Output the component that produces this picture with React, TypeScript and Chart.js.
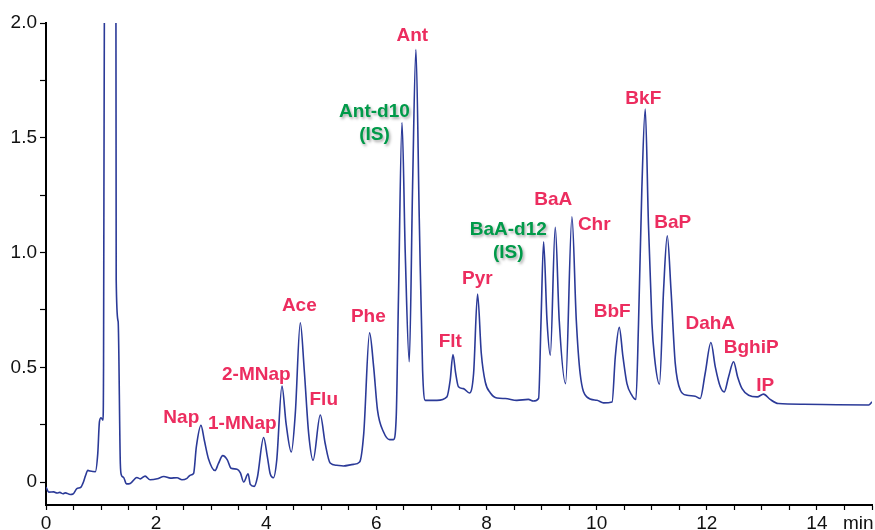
import React, { useEffect, useRef } from 'react';
import { Chart, registerables } from 'chart.js';

Chart.register(...registerables);

// Retention time (min) and detector signal
const timeMin = [
  0.0, 0.05, 0.14, 0.2, 0.25, 0.31, 0.35, 0.44, 0.49, 0.56, 0.635, 0.68, 0.72, 0.76, 0.8, 0.895,
  0.94, 0.97, 1.0, 1.035, 1.045, 1.06, 1.16, 1.27, 1.275, 1.31, 1.35, 1.37, 1.41, 1.46, 1.53,
  1.65, 1.71, 1.8, 1.89, 2.02, 2.14, 2.26, 2.38, 2.47, 2.56, 2.62, 2.68, 2.73, 2.814, 2.875,
  2.95, 3.07, 3.13, 3.21, 3.29, 3.36, 3.47, 3.53, 3.59, 3.67, 3.71, 3.78, 3.84, 3.952, 4.02,
  4.07, 4.13, 4.19, 4.285, 4.36, 4.455, 4.527, 4.618, 4.69, 4.77, 4.85, 4.981, 5.07, 5.16,
  5.28, 5.4, 5.585, 5.695, 5.77, 5.876, 5.95, 6.02, 6.13, 6.24, 6.31, 6.36, 6.4, 6.465, 6.524,
  6.597, 6.657, 6.718, 6.779, 6.839, 6.888, 7.1, 7.28, 7.34, 7.39, 7.44, 7.49, 7.58, 7.69,
  7.765, 7.837, 7.905, 7.977, 8.07, 8.19, 8.34, 8.55, 8.76, 8.85, 8.945, 8.99, 9.036, 9.098,
  9.158, 9.248, 9.32, 9.435, 9.551, 9.63, 9.7, 9.82, 10.005, 10.125, 10.28, 10.338, 10.41,
  10.478, 10.55, 10.64, 10.713, 10.76, 10.82, 10.882, 10.94, 11.004, 11.05, 11.14, 11.215,
  11.282, 11.35, 11.427, 11.52, 11.64, 11.79, 11.88, 11.97, 12.075, 12.154, 12.245, 12.317,
  12.395, 12.486, 12.56, 12.64, 12.76, 12.915, 13.03, 13.15, 13.3, 13.76, 14.36, 14.94, 15.0,
];
const signal = [
  -0.022, -0.044, -0.043, -0.048, -0.045, -0.051, -0.047, -0.054, -0.052, -0.029, -0.022, 0.0,
  0.03, 0.051, 0.048, 0.045, 0.124, 0.262, 0.28, 0.27, 0.5, 2.05, 3.0, 2.05, 0.88, 0.7, 0.08,
  0.03, 0.02, -0.008, -0.006, 0.02, 0.014, 0.026, 0.01, 0.014, 0.024, 0.017, 0.019, 0.01, 0.016,
  0.03, 0.037, 0.153, 0.247, 0.182, 0.102, 0.05, 0.08, 0.115, 0.098, 0.06, 0.056, 0.04, 0.0,
  0.036, -0.01, -0.019, 0.022, 0.194, 0.11, 0.037, 0.019, 0.095, 0.418, 0.255, 0.131, 0.298,
  0.694, 0.487, 0.211, 0.095, 0.292, 0.168, 0.083, 0.073, 0.07, 0.077, 0.087, 0.211, 0.65,
  0.502, 0.313, 0.218, 0.185, 0.185, 0.284, 0.793, 1.566, 0.997, 0.524, 1.287, 1.884, 1.142,
  0.487, 0.356, 0.356, 0.371, 0.444, 0.556, 0.473, 0.415, 0.407, 0.388, 0.473, 0.819, 0.56,
  0.436, 0.388, 0.366, 0.364, 0.356, 0.36, 0.353, 0.364, 0.705, 1.047, 0.705, 0.553, 1.11,
  0.705, 0.429, 1.156, 0.705, 0.473, 0.371, 0.356, 0.345, 0.349, 0.545, 0.674, 0.545, 0.429,
  0.378, 0.36, 0.691, 1.273, 1.625, 1.127, 0.691, 0.545, 0.426, 0.836, 1.073, 0.836, 0.517,
  0.4, 0.378, 0.374, 0.364, 0.473, 0.608, 0.502, 0.415, 0.393, 0.458, 0.524, 0.458, 0.407,
  0.378, 0.371, 0.383, 0.36, 0.342, 0.339, 0.337, 0.336, 0.349,
];

// Axis ticks
const xTickValues = [0, 0.5, 1, 1.5, 2, 2.5, 3, 3.5, 4, 4.5, 5, 5.5, 6, 6.5, 7, 7.5, 8, 8.5, 9, 9.5, 10, 10.5, 11, 11.5, 12, 12.5, 13, 13.5, 14, 14.5, 15];
const xTickLabels = [0, 2, 4, 6, 8, 10, 12, 14];
const yTickValues = [0, 0.25, 0.5, 0.75, 1, 1.25, 1.5, 1.75, 2];
const yTickLabels = [0, 0.5, 1, 1.5, 2];
const xUnit = 'min';

// Peak annotations (anchor of first text line, in data units)
const peakNames = [
  'Nap', '1-MNap', '2-MNap', 'Ace', 'Flu', 'Phe', 'Ant-d10\n(IS)', 'Ant', 'Flt', 'Pyr',
  'BaA-d12\n(IS)', 'BaA', 'Chr', 'BbF', 'BkF', 'BaP', 'DahA', 'BghiP', 'IP',
];
const peakLabelX = [
  2.457, 3.565, 3.819, 4.6, 5.044, 5.853, 5.965, 6.651, 7.342, 7.832,
  8.395, 9.212, 9.956, 10.283, 10.847, 11.382, 12.063, 12.807, 13.061,
];
const peakLabelY = [
  0.282, 0.252, 0.466, 0.767, 0.357, 0.719, 1.613, 1.945, 0.61, 0.884,
  1.098, 1.229, 1.12, 0.74, 1.669, 1.129, 0.688, 0.584, 0.421,
];

const FONT = '"Liberation Sans", Arial, Helvetica, sans-serif';

const peakLabelPlugin = {
  id: 'peakLabels',
  afterDatasetsDraw(chart: any) {
    const { ctx, scales } = chart;
    const xs = scales.x;
    const ys = scales.y;
    ctx.save();
    ctx.font = `bold 19px ${FONT}`;
    ctx.textAlign = 'center';
    ctx.textBaseline = 'middle';
    peakNames.forEach((name, i) => {
      const isStd = name.includes('(IS)');
      const px = xs.getPixelForValue(peakLabelX[i]);
      const py = ys.getPixelForValue(peakLabelY[i]);
      name.split('\n').forEach((line, j) => {
        if (isStd) {
          ctx.shadowColor = 'rgba(0,0,0,0.35)';
          ctx.shadowBlur = 3;
          ctx.shadowOffsetX = 1.5;
          ctx.shadowOffsetY = 1.5;
          ctx.fillStyle = '#009A49';
        } else {
          ctx.shadowColor = 'transparent';
          ctx.shadowBlur = 0;
          ctx.shadowOffsetX = 0;
          ctx.shadowOffsetY = 0;
          ctx.fillStyle = '#EC2D5F';
        }
        ctx.fillText(line, px, py + j * 23);
      });
    });
    ctx.shadowColor = 'transparent';
    ctx.font = `19px ${FONT}`;
    ctx.fillStyle = '#111';
    ctx.textAlign = 'left';
    ctx.textBaseline = 'middle';
    ctx.fillText(xUnit, chart.chartArea.right - 29, chart.chartArea.bottom + 18.5);
    ctx.restore();
  },
};

export default function App() {
  const canvasRef = useRef<HTMLCanvasElement | null>(null);

  useEffect(() => {
    if (!canvasRef.current) return;
    const points = timeMin.map((t, i) => ({ x: t, y: signal[i] }));
    const chart = new Chart(canvasRef.current, {
      type: 'line',
      data: {
        datasets: [
          {
            data: points,
            borderColor: '#2B3A98',
            borderWidth: 1.6,
            pointRadius: 0,
            fill: false,
            cubicInterpolationMode: 'monotone',
          },
        ],
      },
      options: {
        animation: false,
        responsive: false,
        maintainAspectRatio: false,
        devicePixelRatio: 1,
        layout: { padding: { top: 23, right: 3, left: 0, bottom: 0 } },
        plugins: {
          legend: { display: false },
          tooltip: { enabled: false },
        },
        scales: {
          x: {
            type: 'linear',
            min: 0,
            max: 15,
            afterBuildTicks: (scale: any) => {
              scale.ticks = xTickValues.map((v) => ({ value: v }));
            },
            afterFit: (scale: any) => {
              scale.height = 25;
            },
            border: { display: true, color: '#000', width: 2 },
            grid: {
              display: true,
              drawOnChartArea: false,
              drawTicks: true,
              tickLength: 5,
              tickColor: '#000',
              tickWidth: 1.2,
            },
            ticks: {
              autoSkip: false,
              maxRotation: 0,
              padding: 2,
              color: '#111',
              font: { family: FONT, size: 19 },
              callback: (v: any) => (xTickLabels.includes(Number(v)) ? String(v) : ''),
            },
          },
          y: {
            type: 'linear',
            min: -0.1,
            max: 2.0,
            afterBuildTicks: (scale: any) => {
              scale.ticks = yTickValues.map((v) => ({ value: v }));
            },
            afterFit: (scale: any) => {
              scale.width = 46;
            },
            border: { display: true, color: '#000', width: 2 },
            grid: {
              display: true,
              drawOnChartArea: false,
              drawTicks: true,
              tickLength: 6,
              tickColor: '#000',
              tickWidth: 1.2,
            },
            ticks: {
              autoSkip: false,
              padding: 3,
              color: '#111',
              font: { family: FONT, size: 19 },
              callback: (v: any) => {
                const n = Number(v);
                if (!yTickLabels.includes(n)) return '';
                return n === 0 ? '0' : n.toFixed(1);
              },
            },
          },
        },
      },
      plugins: [peakLabelPlugin],
    });
    return () => chart.destroy();
  }, []);

  return (
    <div style={{ position: 'fixed', left: 0, top: 0, width: 875, height: 530, background: '#fff' }}>
      <canvas ref={canvasRef} width={875} height={530} style={{ display: 'block' }} />
    </div>
  );
}
